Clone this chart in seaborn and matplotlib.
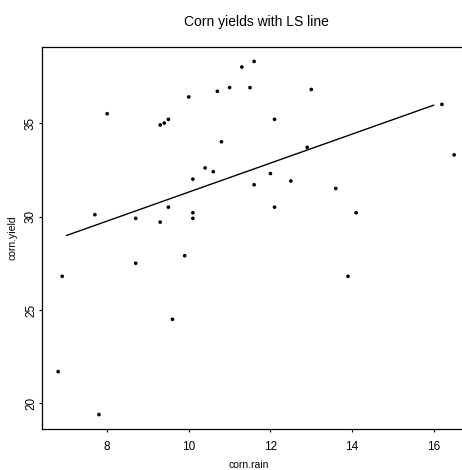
import numpy as np
import pandas as pd
import matplotlib
matplotlib.use("Agg")
import matplotlib.pyplot as plt
import seaborn as sns

corn_rain = [9.6, 12.9, 9.9, 8.7, 6.8, 12.5, 13.0, 10.1, 10.1, 10.1, 10.8, 7.8, 16.2,
             14.1, 10.6, 10.0, 11.5, 13.6, 12.1, 12.0, 9.3, 7.7, 11.0, 6.9, 9.5, 16.5,
             9.3, 9.4, 8.7, 9.5, 11.6, 12.1, 8.0, 10.7, 13.9, 11.3, 11.6, 10.4]
corn_yield = [24.5, 33.7, 27.9, 27.5, 21.7, 31.9, 36.8, 29.9, 30.2, 32.0, 34.0, 19.4, 36.0,
              30.2, 32.4, 36.4, 36.9, 31.5, 30.5, 32.3, 34.9, 30.1, 36.9, 26.8, 30.5, 33.3,
              29.7, 35.0, 29.9, 35.2, 38.3, 35.2, 35.5, 36.7, 26.8, 38.0, 31.7, 32.6]
line_x = [7, 16]
x_ticks = [8, 10, 12, 14, 16]
y_ticks = [20, 25, 30, 35]

df = pd.DataFrame({"corn.rain": corn_rain, "corn.yield": corn_yield})
slope, intercept = np.polyfit(df["corn.rain"], df["corn.yield"], 1)
fit = pd.DataFrame({"x": line_x, "y": [intercept + slope * v for v in line_x]})

sns.set_theme(style="ticks")
plt.rcParams["font.family"] = ["Liberation Sans", "DejaVu Sans"]

fig = plt.figure(figsize=(4.62, 4.70), dpi=100)
W, H = 462, 470
left, right, top, bottom = 42.3, 470.0, 47.3, 428.7
ax = fig.add_axes([left / W, (H - bottom) / H, (right - left) / W, (bottom - top) / H])

sns.scatterplot(data=df, x="corn.rain", y="corn.yield", ax=ax, color="black",
                s=7, linewidth=0, edgecolor="none")
sns.lineplot(data=fit, x="x", y="y", ax=ax, color="black", linewidth=1.0)

xr = max(corn_rain) - min(corn_rain)
yr = max(corn_yield) - min(corn_yield)
ax.set_xlim(min(corn_rain) - 0.04 * xr, max(corn_rain) + 0.04 * xr)
ax.set_ylim(min(corn_yield) - 0.04 * yr, max(corn_yield) + 0.04 * yr)
ax.set_xticks(x_ticks)
ax.set_yticks(y_ticks)
ax.set_xticklabels([str(t) for t in x_ticks])
ax.set_yticklabels([str(t) for t in y_ticks], rotation=90, va="center")

for s in ax.spines.values():
    s.set_color("black")
    s.set_linewidth(0.9)
ax.tick_params(axis="both", length=2.3, width=0.8, color="black", labelsize=8.5,
               labelcolor="black")
ax.tick_params(axis="x", pad=6.5)
ax.tick_params(axis="y", pad=1.5)

ax.set_xlabel("corn.rain", fontsize=7.5, color="black")
ax.set_ylabel("corn.yield", fontsize=7.5, color="black")
ax.xaxis.set_label_coords((249 - left) / (right - left), (bottom - 459.5) / (bottom - top))
ax.yaxis.set_label_coords((17.5 - left) / (right - left), 0.5)
ax.set_title("Corn yields with LS line", fontsize=10, color="black", pad=15)

fig.savefig("out.png", dpi=100, facecolor="white")
